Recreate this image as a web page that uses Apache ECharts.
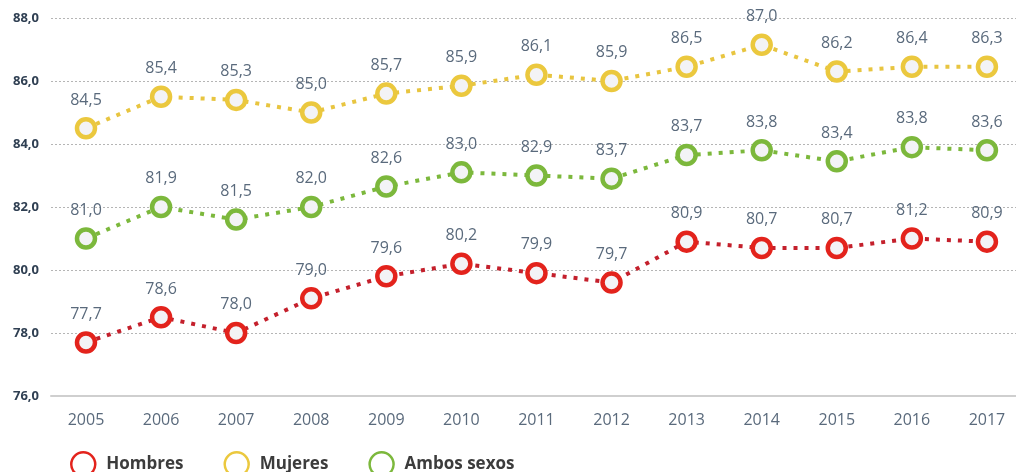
<!DOCTYPE html>
<html>
<head>
<meta charset="utf-8">
<script src="https://cdn.jsdelivr.net/npm/echarts@6/dist/echarts.min.js"></script>
<style>
  html, body { margin: 0; padding: 0; background: #fff; }
  #chart { width: 1016px; height: 472px; }
</style>
</head>
<body>
<div id="chart"></div>
<script>
const years = [2005, 2006, 2007, 2008, 2009, 2010, 2011, 2012, 2013, 2014, 2015, 2016, 2017]

// plotted positions
const hombres = [77.7, 78.5, 78.0, 79.1, 79.8, 80.2, 79.9, 79.6, 80.9, 80.7, 80.7, 81.0, 80.9]
const mujeres = [84.5, 85.5, 85.4, 85.0, 85.6, 85.85, 86.2, 86.0, 86.45, 87.15, 86.3, 86.45, 86.45]
const ambos = [81.0, 82.0, 81.6, 82.0, 82.65, 83.1, 83.0, 82.9, 83.65, 83.8, 83.45, 83.9, 83.8]

// printed labels
const hombresLbl = [77.7, 78.6, 78.0, 79.0, 79.6, 80.2, 79.9, 79.7, 80.9, 80.7, 80.7, 81.2, 80.9]
const mujeresLbl = [84.5, 85.4, 85.3, 85.0, 85.7, 85.9, 86.1, 85.9, 86.5, 87.0, 86.2, 86.4, 86.3]
const ambosLbl = [81.0, 81.9, 81.5, 82.0, 82.6, 83.0, 82.9, 83.7, 83.7, 83.8, 83.4, 83.8, 83.6]

const fmt = v => v.toFixed(1).replace('.', ',')
const font = '"Open Sans", "Noto Sans", sans-serif'

function mkSeries(name, vals, lbls, mark, line) {
  return {
    name: name,
    type: 'line',
    data: years.map((y, i) => [y, vals[i]]),
    symbol: 'circle',
    symbolSize: 18,
    itemStyle: { color: '#f3f3f6', borderColor: mark, borderWidth: 4.5 },
    lineStyle: { color: line, width: 4, type: [4, 7], cap: 'butt' },
    label: {
      show: true,
      position: 'top',
      distance: 9,
      color: '#5a6a7c',
      fontFamily: font,
      fontSize: 16,
      formatter: p => fmt(lbls[p.dataIndex])
    },
    z: 3
  }
}

const chart = echarts.init(document.getElementById('chart'))
chart.setOption({
  animation: false,
  grid: { left: 51, right: 0, top: 18, bottom: 76 },
  legend: {
    left: 65,
    top: 446,
    itemWidth: 24,
    itemHeight: 24,
    itemGap: 40,
    textStyle: { color: '#3c3c3c', fontFamily: font, fontSize: 17, fontWeight: 'bold', padding: [0, 0, 0, 6] },
    data: [
      { name: 'Hombres', icon: 'circle', itemStyle: { color: 'transparent', borderColor: '#e3231c', borderWidth: 2.5 } },
      { name: 'Mujeres', icon: 'circle', itemStyle: { color: 'transparent', borderColor: '#ebc83e', borderWidth: 2.5 } },
      { name: 'Ambos sexos', icon: 'circle', itemStyle: { color: 'transparent', borderColor: '#7cb83c', borderWidth: 2.5 } }
    ]
  },
  xAxis: {
    type: 'value',
    min: 2004.534,
    max: 2017.387,
    axisLine: { show: true, lineStyle: { color: '#cfcfcf', width: 2 } },
    axisTick: { show: false },
    splitLine: { show: false },
    axisLabel: {
      customValues: years,
      margin: 16,
      color: '#5a6a7c',
      fontFamily: font,
      fontSize: 16,
      formatter: v => String(v)
    }
  },
  yAxis: {
    type: 'value',
    min: 76,
    max: 88,
    interval: 2,
    axisLine: { show: false },
    axisTick: { show: false },
    splitLine: { show: true, lineStyle: { color: '#b5b5b5', type: [2, 2], width: 1 } },
    axisLabel: {
      margin: 12,
      color: '#2f3f52',
      fontFamily: font,
      fontSize: 13,
      fontWeight: 'bold',
      formatter: v => fmt(v)
    }
  },
  series: [
    mkSeries('Hombres', hombres, hombresLbl, '#e3231c', '#c4202c'),
    mkSeries('Mujeres', mujeres, mujeresLbl, '#ebc83e', '#e8c540'),
    mkSeries('Ambos sexos', ambos, ambosLbl, '#7cb83c', '#7cb83c')
  ]
})
</script>
</body>
</html>
